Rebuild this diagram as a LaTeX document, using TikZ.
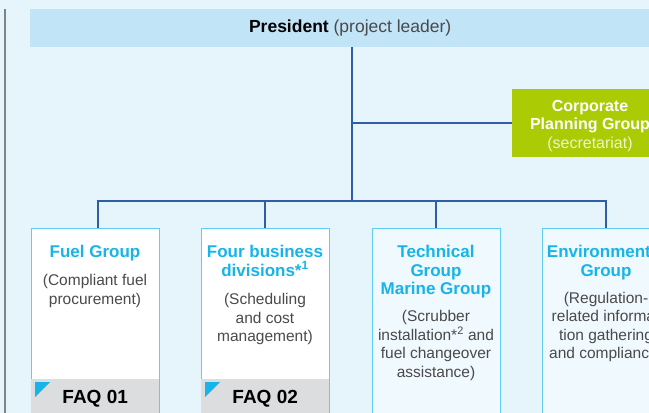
\documentclass[tikz,border=0pt]{standalone}
\usepackage{fontspec}
\setmainfont{Liberation Sans}
\usepackage{xcolor}
\usetikzlibrary{positioning}

\definecolor{bgblue}{HTML}{E6F4FB}
\definecolor{presblue}{HTML}{C1E4F7}
\definecolor{lineblue}{HTML}{2F5DA6}
\definecolor{corpgreen}{HTML}{ABCB05}
\definecolor{corplight}{HTML}{EEF5C8}
\definecolor{boxcyan}{HTML}{5FCDF3}
\definecolor{titlecyan}{HTML}{17B4E9}
\definecolor{descgray}{HTML}{4A4A4A}
\definecolor{faqgray}{HTML}{DCDDDE}
\definecolor{paleblue}{HTML}{F0F9FD}
\definecolor{rulegray}{HTML}{808285}

\begin{document}
\begin{tikzpicture}[x=1pt,y=-1pt,
    link/.style={draw=lineblue,line width=1.2pt},
    grpbox/.style={draw=boxcyan,line width=1pt,fill=white,minimum width=128pt,
      minimum height=200pt,anchor=north,inner sep=0pt,outer sep=0pt},
    grptitle/.style={text=titlecyan,font=\fontsize{17}{18.5}\selectfont\bfseries,
      align=center,inner sep=0pt,anchor=north},
    grpdesc/.style={text=descgray,font=\fontsize{15.5}{18.5}\selectfont,
      align=center,inner sep=0pt},
    faq/.style={fill=faqgray,minimum width=128pt,minimum height=40pt,
      anchor=north west,inner sep=0pt,font=\fontsize{19}{20}\selectfont\bfseries}]
    \clip (0,0) rectangle (649,413);
    \fill[bgblue] (0,0) rectangle (649,413);
    \draw[rulegray,line width=2pt] (4.5,9) -- (4.5,413);

    % top of the chart
    \node[fill=presblue,minimum width=640pt,minimum height=38pt,anchor=north west,
      inner sep=0pt,font=\fontsize{17.5}{19}\selectfont] (pres) at (30,9)
      {\textbf{President} {\color{descgray}(project leader)}};
    \node[fill=corpgreen,minimum width=156pt,minimum height=68pt,
      anchor=north west,inner sep=0pt,outer sep=0pt] (corp) at (512,89) {};
    \node[text=white,inner sep=0pt,align=center,font=\fontsize{16}{18.5}\selectfont]
      (corptext) at ([yshift=-3pt]corp.center)
      {\textbf{Corporate}\\\textbf{Planning Group}\\{\color{corplight}(secretariat)}};
    \coordinate (bus) at (352,201);

    % groups
    \node[grpbox] (fuel) at (95,228) {};
    \node[grpbox,right=42pt of fuel] (four) {};
    \node[grpbox,fill=paleblue,right=43pt of four] (tech) {};
    \node[grpbox,fill=paleblue,right=42pt of tech] (env) {};

    \draw[link] (pres.south -| bus) -- (bus);
    \draw[link] (corp.west) -- (corp.west -| bus);
    \draw[link] ([xshift=3pt]fuel.north) |- (bus);
    \draw[link] (four.north) |- (bus);
    \draw[link] (tech.north) |- (bus);
    \draw[link] (env.north) |- (bus);

    \node[grptitle] (fueltitle) at ([yshift=-17pt]fuel.north) {Fuel Group};
    \node[grpdesc,below=13pt of fueltitle] (fueldesc) {(Compliant fuel\\procurement)};
    \node[grptitle] (fourtitle) at ([yshift=-17pt]four.north)
      {Four business\\divisions*\textsuperscript{1}};
    \node[grpdesc,below=17pt of fourtitle] (fourdesc)
      {(Scheduling\\and cost\\management)};
    \node[grptitle] (techtitle) at ([yshift=-17pt]tech.north)
      {Technical\\Group\\Marine Group};
    \node[grpdesc,below=12pt of techtitle] (techdesc)
      {(Scrubber\\installation*\textsuperscript{2} and\\fuel changeover\\assistance)};
    \node[grptitle] (envtitle) at ([yshift=-17pt]env.north) {Environmental\\Group};
    \node[grpdesc,below=12pt of envtitle] (envdesc)
      {(Regulation-\\related informa-\\tion gathering\\and compliance)};

    % FAQ tabs
    \node[faq] (faq1) at ([yshift=-151pt]fuel.north west) {FAQ 01};
    \node[faq] (faq2) at ([yshift=-151pt]four.north west) {FAQ 02};
    \fill[titlecyan] ([shift={(4pt,-3pt)}]faq1.north west) -- ++(15,0) -- ++(-15,15) -- cycle;
    \fill[titlecyan] ([shift={(4pt,-3pt)}]faq2.north west) -- ++(15,0) -- ++(-15,15) -- cycle;
\end{tikzpicture}
\end{document}
